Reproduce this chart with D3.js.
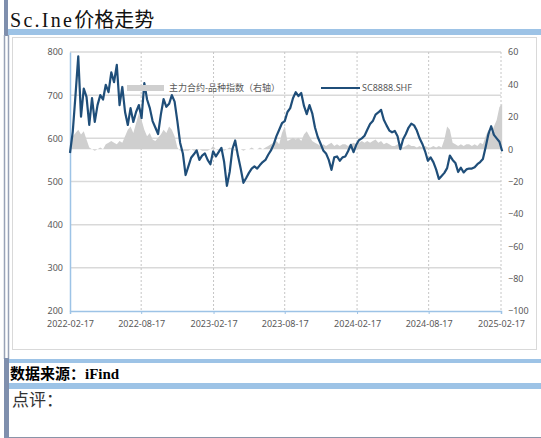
<!DOCTYPE html>
<html><head><meta charset="utf-8">
<script src="https://cdn.jsdelivr.net/npm/d3@7/dist/d3.min.js"></script>
<style>
html,body{margin:0;padding:0;background:#fff;}
svg{display:block;}
</style></head>
<body>
<svg id="c" width="541" height="438"></svg>
<script>
// ---- data ----
const startDate = "2022-02-17";
const endDate = "2025-02-17";
const stepDays = 7; // weekly observations
const xTickLabels = ["2022-02-17","2022-08-17","2023-02-17","2023-08-17","2024-02-17","2024-08-17","2025-02-17"];
const leftTicks = [200,300,400,500,600,700,800];
const rightTicks = [-100,-80,-60,-40,-20,0,20,40,60];
const seriesNames = ["主力合约-品种指数（右轴）","SC8888.SHF"];
// SC8888.SHF weekly close (left axis)
const scPrice = [566,615,700,790,650,715,696,631,693,638,677,700,690,724,707,753,730,770,677,719,
661,631,670,638,661,677,647,728,690,670,640,625,610,655,691,673,680,700,685,640,
590,565,515,535,555,563,572,550,560,565,550,540,570,558,568,578,545,490,522,575,
595,560,530,497,508,520,530,535,530,538,545,550,562,572,586,605,620,635,640,661,
670,693,707,698,705,675,656,677,658,625,603,588,572,565,550,527,556,558,548,556,
558,570,585,568,585,596,600,606,620,633,640,655,660,666,643,630,618,614,617,605,
575,598,610,625,634,630,618,600,587,570,548,556,545,528,506,513,520,531,560,550,
543,522,532,521,528,530,530,533,540,545,552,580,610,628,608,600,592,570];
// main contract minus variety index (right axis)
const basis = [2,8,10,12,9,11,6,1,0,-1,0,1,0,3,4,5,4,3,5,4,
8,12,14,10,16,22,18,12,8,10,6,5,7,9,12,10,14,12,8,1,
-1,-1,-1,-1,0,-1,-1,0,-1,-1,-1,0,2,0,-1,0,-1,0,1,0,
-1,0,0,-1,0,0,1,0,0,1,0,1,2,3,4,5,3,10,14,5,
6,7,6,7,5,9,11,8,5,4,3,2,3,2,3,4,2,3,2,3,
3,2,3,4,3,4,5,4,5,4,5,6,4,5,3,4,3,2,2,3,
2,1,2,3,2,2,1,2,1,2,1,1,2,1,2,1,6,14,12,4,
3,2,3,2,3,3,2,3,2,4,3,8,12,10,14,18,26,28];

// ---- build ----
const parse = d3.timeParse("%Y-%m-%d");
const t0 = parse(startDate);
const rows = scPrice.map((v,i)=>({date:d3.timeDay.offset(t0, i*stepDays), v, b: basis[i]}));

const svg = d3.select("#c");
const W = 541, H = 438;

// frame
const blue = "#9dc3e6", slate = "#7f8fad";
svg.append("rect").attr("x",4).attr("y",0).attr("width",4).attr("height",36).attr("fill",slate);
svg.append("rect").attr("x",8).attr("y",29).attr("width",W-8).attr("height",6).attr("fill",blue);
svg.append("line").attr("x1",4.5).attr("x2",4.5).attr("y1",35).attr("y2",359).attr("stroke","#98a2b6").attr("stroke-width",1.5);
svg.append("line").attr("x1",8.5).attr("x2",8.5).attr("y1",35).attr("y2",359).attr("stroke","#98a2b6").attr("stroke-width",1.5);
svg.append("rect").attr("x",12.5).attr("y",37.5).attr("width",524).attr("height",312).attr("fill","#fff").attr("stroke","#d9d9d9");
svg.append("rect").attr("x",9).attr("y",359).attr("width",W-9).attr("height",4).attr("fill",blue);
svg.append("rect").attr("x",4).attr("y",358).attr("width",5).attr("height",80).attr("fill",slate);
svg.append("rect").attr("x",9).attr("y",383).attr("width",W-9).attr("height",6).attr("fill",blue);
svg.append("line").attr("x1",9).attr("x2",W).attr("y1",437.5).attr("y2",437.5).attr("stroke","#8a94a8");

// title
const title = svg.append("text").attr("x",10).attr("y",27).attr("font-size",20).attr("fill","#111");
title.append("tspan").attr("font-family","'Liberation Serif','DejaVu Serif',serif").attr("textLength",62).attr("lengthAdjust","spacing").text("Sc.Ine");
title.append("tspan").attr("font-family","'Noto Sans CJK SC',sans-serif").text("价格走势");

// footer texts
const src = svg.append("text").attr("x",10).attr("y",379).attr("font-size",15).attr("font-weight","bold").attr("fill","#000");
src.append("tspan").attr("font-family","'Noto Sans CJK SC',sans-serif").text("数据来源：");
src.append("tspan").attr("font-family","'Liberation Serif',serif").text("iFind");
svg.append("text").attr("x",12).attr("y",406).attr("font-size",17).attr("fill","#333")
  .attr("font-family","'Noto Sans CJK SC',sans-serif").text("点评：");

// scales
const x = d3.scaleTime().domain([parse(startDate), parse(endDate)]).range([70,501]);
const yL = d3.scaleLinear().domain([200,800]).range([311,52]);
const yR = d3.scaleLinear().domain([-100,60]).range([311,52]);
const font = "'Noto Sans','Liberation Sans',sans-serif";
const labelColor = "#595959";

// horizontal gridlines
svg.append("g").selectAll("line").data(leftTicks.filter(d=>d>200)).join("line")
  .attr("x1",70).attr("x2",501).attr("y1",d=>yL(d)).attr("y2",d=>yL(d))
  .attr("stroke","#d9d9d9").attr("stroke-width",1.5);
// vertical dotted gridlines
const xt = xTickLabels.map(parse);
svg.append("g").selectAll("line").data(xt.slice(1)).join("line")
  .attr("x1",d=>x(d)).attr("x2",d=>x(d)).attr("y1",52).attr("y2",311)
  .attr("stroke","#c6c6c6").attr("stroke-width",1).attr("stroke-dasharray","2,2");

// gray area (right axis)
svg.append("path").datum(rows)
  .attr("d", d3.area().x(d=>x(d.date)).y0(yR(0)).y1(d=>yR(d.b)))
  .attr("fill","#cfcfcf");

// axes
const gx = svg.append("g").attr("transform","translate(0,311)")
  .call(d3.axisBottom(x).tickValues(xt).tickFormat(d3.timeFormat("%Y-%m-%d")).tickSize(3).tickPadding(7));
gx.select(".domain").attr("stroke","#9dc3e6").attr("stroke-width",1.5);
gx.selectAll(".tick line").attr("stroke","#9dc3e6");
gx.selectAll("text").attr("font-family",font).attr("font-size",9).attr("fill",labelColor);

const gy = svg.append("g").attr("transform","translate(70,0)")
  .call(d3.axisLeft(yL).tickValues(leftTicks).tickSize(0).tickPadding(7));
gy.select(".domain").attr("stroke","#9dc3e6").attr("stroke-width",1.5);
gy.selectAll("text").attr("font-family",font).attr("font-size",9).attr("fill",labelColor);

const gr = svg.append("g").attr("transform","translate(501,0)")
  .call(d3.axisRight(yR).tickValues(rightTicks).tickSize(0).tickPadding(7));
gr.select(".domain").remove();
gr.selectAll("text").attr("font-family",font).attr("font-size",9).attr("fill",labelColor);

// price line
svg.append("path").datum(rows)
  .attr("d", d3.line().x(d=>x(d.date)).y(d=>yL(d.v)))
  .attr("fill","none").attr("stroke","#1f4e79").attr("stroke-width",2.2).attr("stroke-linejoin","round");

// legend
const lg = svg.append("g").attr("font-family",font).attr("font-size",9).attr("fill",labelColor);
lg.append("rect").attr("x",127).attr("y",85).attr("width",37).attr("height",6).attr("fill","#cfcfcf");
lg.append("text").attr("x",169).attr("y",91).attr("font-family","'Noto Sans CJK SC',sans-serif").text(seriesNames[0]);
lg.append("line").attr("x1",321).attr("x2",360).attr("y1",88).attr("y2",88).attr("stroke","#1f4e79").attr("stroke-width",2.2);
lg.append("text").attr("x",362).attr("y",91).text(seriesNames[1]);
</script>
</body></html>
